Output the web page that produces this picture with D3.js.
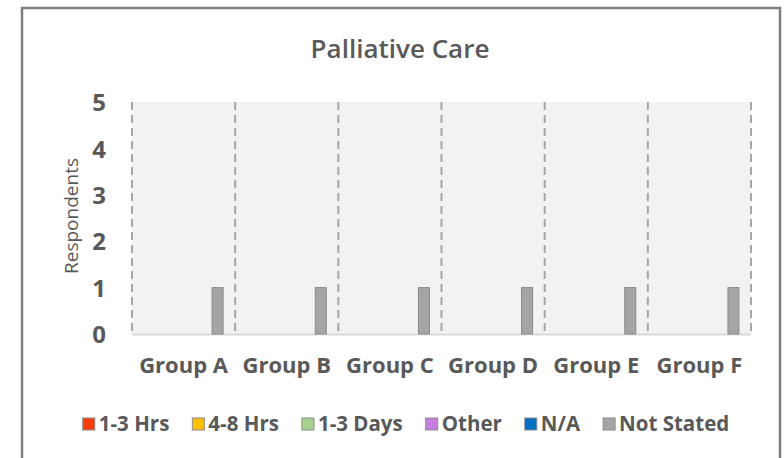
<!DOCTYPE html>
<html>
<head>
<meta charset="utf-8">
<script src="https://cdnjs.cloudflare.com/ajax/libs/d3/7.8.5/d3.min.js"></script>
<style>
  html, body { margin: 0; padding: 0; background: #fff; }
  svg { display: block; }
  text { font-family: "Open Sans", "Noto Sans", sans-serif; fill: #595959; }
</style>
</head>
<body>
<svg id="chart" width="784" height="458"></svg>
<script>
const title = "Palliative Care";
const yAxisTitle = "Respondents";
const categories = ["Group A", "Group B", "Group C", "Group D", "Group E", "Group F"];
const seriesNames = ["1-3 Hrs", "4-8 Hrs", "1-3 Days", "Other", "N/A", "Not Stated"];
const seriesColors = ["#ff3d0d", "#ffc000", "#a9d18e", "#c47fe0", "#0070c0", "#a5a5a5"];
const hrs13 = [0, 0, 0, 0, 0, 0];
const hrs48 = [0, 0, 0, 0, 0, 0];
const days13 = [0, 0, 0, 0, 0, 0];
const other = [0, 0, 0, 0, 0, 0];
const na = [0, 0, 0, 0, 0, 0];
const notStated = [1, 1, 1, 1, 1, 1];
const seriesValues = [hrs13, hrs48, days13, other, na, notStated];
const yTicks = [0, 1, 2, 3, 4, 5];

const svg = d3.select("#chart");

// chart frame (no bottom edge visible)
svg.append("path")
  .attr("d", "M22,460 L22,8 L780,8 L780,460")
  .attr("fill", "none").attr("stroke", "#7f7f7f").attr("stroke-width", 2.5);

const plot = { left: 132, right: 751, top: 102, bottom: 334 };

const x0 = d3.scaleBand().domain(categories).range([plot.left, plot.right]).padding(0);
const x1 = d3.scaleBand().domain(seriesNames)
  .range([x0.bandwidth() * 0.243, x0.bandwidth() * 0.883]).padding(0);
const y = d3.scaleLinear().domain([0, 5]).range([plot.bottom, plot.top]);

// plot background
svg.append("rect")
  .attr("x", plot.left).attr("y", plot.top)
  .attr("width", plot.right - plot.left).attr("height", plot.bottom - plot.top)
  .attr("fill", "#f2f2f2");

// baseline
svg.append("line")
  .attr("x1", plot.left).attr("x2", plot.right)
  .attr("y1", y(0) + 0.5).attr("y2", y(0) + 0.5)
  .attr("stroke", "#d9d9d9").attr("stroke-width", 2);

// vertical dashed separators
const bounds = categories.map(c => x0(c)).concat([x0(categories[categories.length - 1]) + x0.bandwidth()]);
svg.append("g").selectAll("line").data(bounds).join("line")
  .attr("x1", d => d).attr("x2", d => d)
  .attr("y1", plot.top).attr("y2", plot.bottom)
  .attr("stroke", "#a6a6a6").attr("stroke-width", 2)
  .attr("stroke-dasharray", "8,5");

// bars
const groups = svg.append("g").selectAll("g").data(categories).join("g")
  .attr("transform", c => `translate(${x0(c)},0)`);
groups.selectAll("rect")
  .data((c, i) => seriesNames.map((s, j) => ({ s, j, v: seriesValues[j][i] })))
  .join("rect")
  .filter(d => d.v > 0)
  .attr("x", d => x1(d.s))
  .attr("width", x1.bandwidth())
  .attr("y", d => y(d.v))
  .attr("height", d => y(0) - y(d.v))
  .attr("fill", d => seriesColors[d.j])
  .attr("stroke", "#8a8a8a").attr("stroke-width", 1);

// y axis
const yAxis = d3.axisLeft(y).tickValues(yTicks).tickFormat(d3.format("d")).tickSize(0).tickPadding(0);
const yg = svg.append("g").attr("transform", `translate(106,0)`).call(yAxis);
yg.select(".domain").remove();
yg.selectAll("text")
  .attr("font-size", 24).attr("font-weight", 700)
  .attr("fill", "#595959").attr("dy", "0.36em")
  .style("font-family", '"Open Sans", sans-serif');

// x axis
const xAxis = d3.axisBottom(x0).tickSize(0).tickPadding(0);
const xg = svg.append("g").attr("transform", `translate(0,${plot.bottom})`).call(xAxis);
xg.select(".domain").remove();
xg.selectAll("text")
  .attr("y", 39).attr("dy", 0)
  .attr("font-size", 22).attr("font-weight", 700)
  .attr("fill", "#595959")
  .style("font-family", '"Open Sans", sans-serif');

// title
svg.append("text")
  .attr("x", 400).attr("y", 58)
  .attr("text-anchor", "middle")
  .attr("font-size", 26).attr("font-weight", 600)
  .text(title);

// y axis title
svg.append("text")
  .attr("transform", "translate(78,216) rotate(-90)")
  .attr("text-anchor", "middle")
  .attr("font-size", 19)
  .text(yAxisTitle);

// legend
const legend = svg.append("g");
const items = legend.selectAll("g").data(seriesNames).join("g");
items.append("rect")
  .attr("width", 12).attr("height", 12)
  .attr("y", -6)
  .attr("fill", (d, i) => seriesColors[i])
  .attr("stroke", "#8a8a8a").attr("stroke-width", 1);
items.append("text")
  .attr("x", 16).attr("dy", "0.36em")
  .attr("font-size", 20.5).attr("font-weight", 700)
  .text(d => d);
let xpos = 0;
const gap = 23;
items.each(function () {
  const w = 16 + d3.select(this).select("text").node().getComputedTextLength();
  d3.select(this).attr("transform", `translate(${xpos},0)`);
  xpos += w + gap;
});
const totalW = xpos - gap;
legend.attr("transform", `translate(${406 - totalW / 2},424)`);
</script>
</body>
</html>
